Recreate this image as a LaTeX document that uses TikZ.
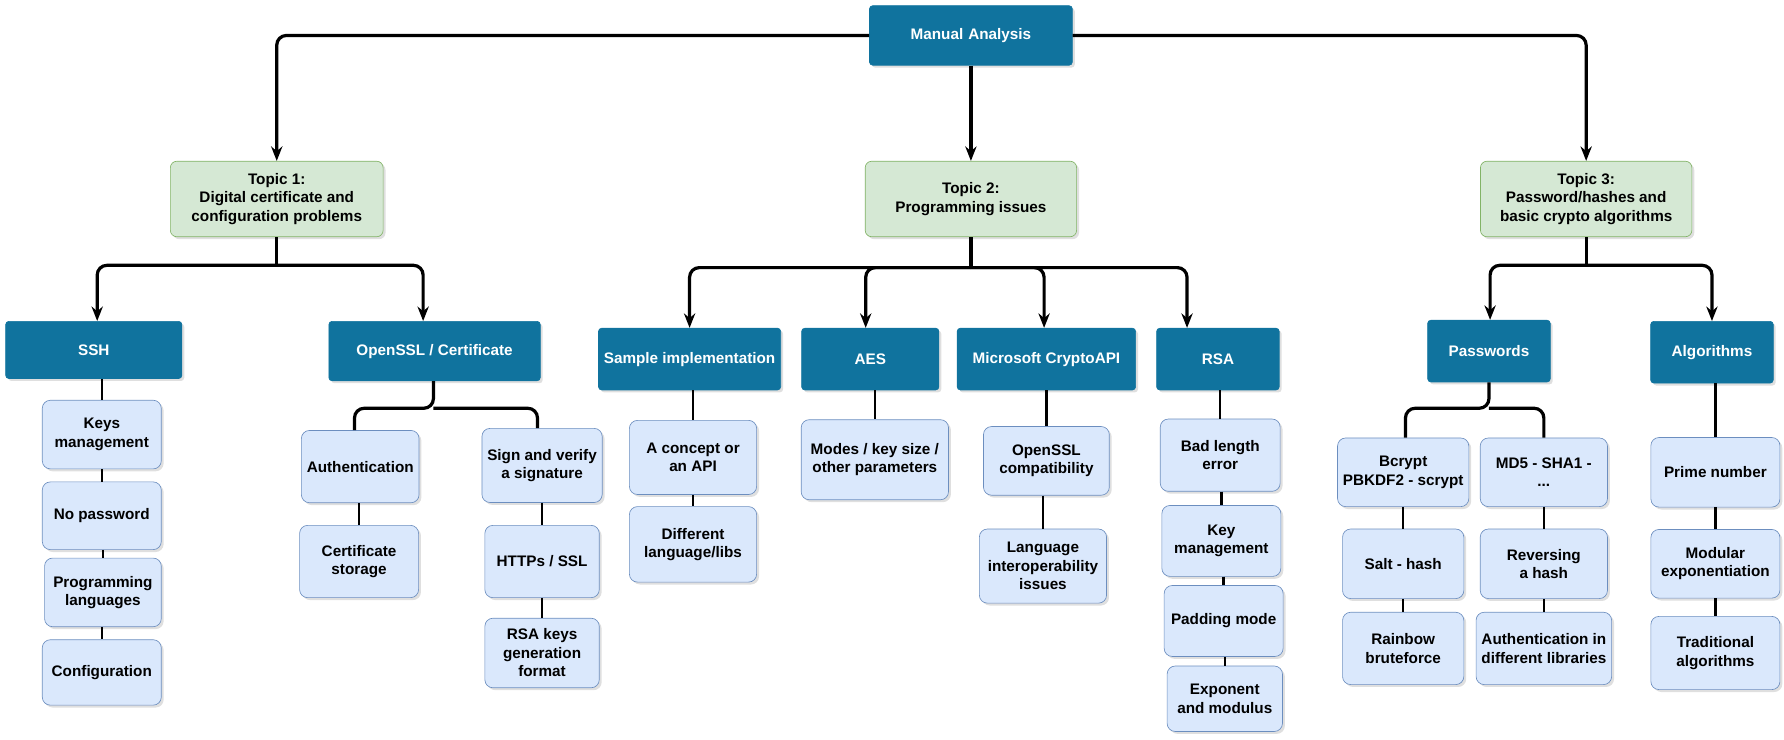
\documentclass[tikz,border=0pt]{standalone}
\usepackage{fontspec}
\setmainfont{Liberation Sans}
\usetikzlibrary{arrows.meta,shadows}
\definecolor{headblue}{HTML}{10739E}
\definecolor{topicgreen}{HTML}{D5E8D4}
\definecolor{topicedge}{HTML}{82B366}
\definecolor{leafblue}{HTML}{DAE8FC}
\definecolor{leafedge}{HTML}{6C8EBF}
\tikzset{
  head/.style={fill=headblue,draw=headblue,text=white,rounded corners=2pt,align=center,
    font=\fontsize{9.5}{11.5}\selectfont\bfseries,drop shadow={opacity=0.25,shadow xshift=1.5pt,shadow yshift=-1.5pt}},
  topic/.style={fill=topicgreen,draw=topicedge,rounded corners=4pt,align=center,
    font=\fontsize{9.5}{11.5}\selectfont\bfseries,drop shadow={opacity=0.25,shadow xshift=1.5pt,shadow yshift=-1.5pt}},
  leaf/.style={fill=leafblue,draw=leafedge,rounded corners=5pt,align=center,
    font=\fontsize{9.5}{11.5}\selectfont\bfseries,drop shadow={opacity=0.25,shadow xshift=1.5pt,shadow yshift=-1.5pt}},
  arr/.style={line width=2pt,rounded corners=6pt,-{Stealth[length=9pt,width=7pt]}},
  bar/.style={line width=2pt,rounded corners=6pt},
  link/.style={line width=1.5pt}
}
\begin{document}
\begin{tikzpicture}[x=0.025cm,y=-0.025cm]
  \useasboundingbox (0,0) rectangle (1560,647);

  % root and topics
  \node[head,minimum width=184\pgflinewidth,text width=4.2cm,minimum height=1.3cm] (root) at (849,31) {Manual Analysis};
  \node[topic,minimum width=4.65cm,minimum height=1.65cm] (t1) at (242,174) {Topic 1:\\Digital certificate and\\configuration problems};
  \node[topic,minimum width=4.62cm,minimum height=1.65cm] (t2) at (849,174) {Topic 2:\\Programming issues};
  \node[topic,minimum width=4.62cm,minimum height=1.65cm] (t3) at (1387,174) {Topic 3:\\Password/hashes and\\basic crypto algorithms};

  \draw[arr] (root.west) -| (t1.north);
  \draw[arr] (root.east) -| (t3.north);
  \draw[arr] (root.south) -- (t2.north);

  % sub-topics
  \node[head,minimum width=3.85cm,minimum height=1.25cm] (ssh) at (82,306) {SSH};
  \node[head,minimum width=4.62cm,minimum height=1.3cm] (ossl) at (380,307) {OpenSSL / Certificate};
  \node[head,minimum width=3.95cm,minimum height=1.35cm] (sample) at (603,314) {Sample implementation};
  \node[head,minimum width=3cm,minimum height=1.35cm] (aes) at (761,314) {AES};
  \node[head,minimum width=3.9cm,minimum height=1.35cm] (mscapi) at (915,314) {Microsoft CryptoAPI};
  \node[head,minimum width=2.68cm,minimum height=1.35cm] (rsa) at (1065,314) {RSA};
  \node[head,minimum width=2.68cm,minimum height=1.35cm] (pwd) at (1302,307) {Passwords};
  \node[head,minimum width=2.68cm,minimum height=1.35cm] (algo) at (1497,308) {Algorithms};

  \coordinate (j1) at (242,232);
  \coordinate (j2) at (849,234);
  \coordinate (j3) at (1387,232);
  \draw[bar] (t1.south) -- (j1);
  \draw[bar] (t2.south) -- (j2);
  \draw[bar] (t3.south) -- (j3);
  \draw[arr] (j1) -| (ssh.north -| 85,0);
  \draw[arr] (j1) -| (ossl.north -| 370,0);
  \draw[arr] (j2) -| (sample.north);
  \draw[arr] (j2) -| (aes.north -| 757,0);
  \draw[arr] (j2) -| (mscapi.north -| 913,0);
  \draw[arr] (j2) -| (rsa.north -| 1038,0);
  \draw[arr] (j3) -| (pwd.north -| 1303,0);
  \draw[arr] (j3) -| (algo.north);

  % leaves
  \node[leaf,minimum width=2.6cm,minimum height=1.5cm] (sshkeys) at (89,380) {Keys\\management};
  \node[leaf,minimum width=2.6cm,minimum height=1.48cm] (sshpwd) at (89,451) {No password};
  \node[leaf,minimum width=2.55cm,minimum height=1.5cm] (sshlang) at (90,518) {Programming\\languages};
  \node[leaf,minimum width=2.6cm,minimum height=1.43cm] (sshconf) at (89,588) {Configuration};

  \node[leaf,minimum width=2.55cm,minimum height=1.58cm] (auth) at (315,408) {Authentication};
  \node[leaf,minimum width=2.6cm,minimum height=1.58cm] (certst) at (314,491) {Certificate\\storage};
  \node[leaf,minimum width=2.5cm,minimum height=1.62cm] (sign) at (474,407) {Sign and verify\\a signature};
  \node[leaf,minimum width=2.5cm,minimum height=1.58cm] (https) at (474,491) {HTTPs / SSL};
  \node[leaf,minimum width=2.5cm,minimum height=1.52cm] (rsakeys) at (474,571) {RSA keys\\generation\\format};

  \node[leaf,minimum width=2.78cm,minimum height=1.62cm] (concept) at (606,400) {A concept or\\an API};
  \node[leaf,minimum width=2.78cm,minimum height=1.65cm] (difflang) at (606,476) {Different\\language/libs};

  \node[leaf,minimum width=3.22cm,minimum height=1.75cm] (modes) at (765,402) {Modes / key size /\\other parameters};

  \node[leaf,minimum width=2.75cm,minimum height=1.5cm] (osslcomp) at (915,403) {OpenSSL\\compatibility};
  \node[leaf,minimum width=2.78cm,minimum height=1.62cm] (interop) at (912,495) {Language\\interoperability\\issues};

  \node[leaf,minimum width=2.62cm,minimum height=1.58cm] (badlen) at (1067,398) {Bad length\\error};
  \node[leaf,minimum width=2.6cm,minimum height=1.55cm] (rsakey) at (1068,473) {Key\\management};
  \node[leaf,minimum width=2.6cm,minimum height=1.55cm] (padding) at (1070,543) {Padding mode};
  \node[leaf,minimum width=2.52cm,minimum height=1.43cm] (expo) at (1071,611) {Exponent\\and modulus};

  \node[leaf,minimum width=2.65cm,minimum height=1.5cm] (bcrypt) at (1227,413) {Bcrypt\\PBKDF2 - scrypt};
  \node[leaf,minimum width=2.65cm,minimum height=1.52cm] (salt) at (1227,493) {Salt - hash};
  \node[leaf,minimum width=2.65cm,minimum height=1.58cm] (rainbow) at (1227,567) {Rainbow\\bruteforce};
  \node[leaf,minimum width=2.78cm,minimum height=1.5cm] (md5) at (1350,413) {MD5 - SHA1 -\\...};
  \node[leaf,minimum width=2.78cm,minimum height=1.52cm] (revhash) at (1350,493) {Reversing\\a hash};
  \node[leaf,minimum width=2.78cm,minimum height=1.58cm] (authlib) at (1350,567) {Authentication in\\different libraries};

  \node[leaf,minimum width=2.82cm,minimum height=1.52cm] (prime) at (1500,413) {Prime number};
  \node[leaf,minimum width=2.82cm,minimum height=1.5cm] (modexp) at (1500,493) {Modular\\exponentiation};
  \node[leaf,minimum width=2.82cm,minimum height=1.6cm] (tradalg) at (1500,571) {Traditional\\algorithms};

  % fork lines
  \coordinate (j4) at (379,357);
  \coordinate (j5) at (1302,357);
  \draw[bar] (ossl.south -| j4) -- (j4) -| (auth.north -| 310,0);
  \draw[bar] (j4) -| (sign.north -| 470,0);
  \draw[bar] (pwd.south) -- (j5) -| (bcrypt.north -| 1229,0);
  \draw[bar] (j5) -| (md5.north);

  % chains
  \foreach \a/\b in {ssh/sshkeys,sshkeys/sshpwd,sshpwd/sshlang,sshlang/sshconf,
    auth/certst,sign/https,https/rsakeys,sample/concept,concept/difflang,aes/modes,
    mscapi/osslcomp,osslcomp/interop,rsa/badlen,badlen/rsakey,rsakey/padding,padding/expo,
    bcrypt/salt,salt/rainbow,md5/revhash,revhash/authlib,algo/prime,prime/modexp,modexp/tradalg}
    \draw[link] (\a.south -| \b) -- (\b.north);
\end{tikzpicture}
\end{document}
